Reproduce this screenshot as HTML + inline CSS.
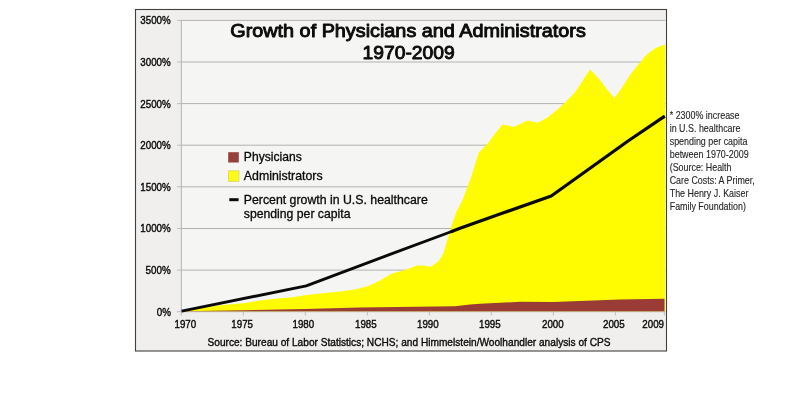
<!DOCTYPE html>
<html><head><meta charset="utf-8">
<style>
html,body{margin:0;padding:0;background:#fff;}
body{width:800px;height:400px;overflow:hidden;font-family:"Liberation Sans",sans-serif;}
svg{display:block;}
text{font-family:"Liberation Sans",sans-serif;}
</style></head>
<body>
<svg width="800" height="400" viewBox="0 0 800 400" style="will-change:transform">
<rect x="0" y="0" width="800" height="400" fill="#ffffff"/>
<!-- outer box -->
<rect x="135.5" y="9.5" width="531" height="341.5" fill="#f0efed" stroke="#404040" stroke-width="1.1"/>
<!-- plot area -->
<rect x="181" y="20" width="484.5" height="291.2" fill="#f5f5f3"/>
<!-- gridlines -->
<g stroke="#b2b2b0" stroke-width="1">
<line x1="181" y1="20.4" x2="665.5" y2="20.4"/>
<line x1="181" y1="62.0" x2="665.5" y2="62.0"/>
<line x1="181" y1="103.6" x2="665.5" y2="103.6"/>
<line x1="181" y1="145.2" x2="665.5" y2="145.2"/>
<line x1="181" y1="186.8" x2="665.5" y2="186.8"/>
<line x1="181" y1="228.5" x2="665.5" y2="228.5"/>
<line x1="181" y1="270.1" x2="665.5" y2="270.1"/>
<line x1="181" y1="311.7" x2="665.5" y2="311.7"/>
<line x1="181.3" y1="20" x2="181.3" y2="315.5"/>
</g>
<g stroke="#bdbdbb" stroke-width="1">
<line x1="177" y1="20.4" x2="181" y2="20.4"/>
<line x1="177" y1="62.0" x2="181" y2="62.0"/>
<line x1="177" y1="103.6" x2="181" y2="103.6"/>
<line x1="177" y1="145.2" x2="181" y2="145.2"/>
<line x1="177" y1="186.8" x2="181" y2="186.8"/>
<line x1="177" y1="228.5" x2="181" y2="228.5"/>
<line x1="177" y1="270.1" x2="181" y2="270.1"/>
<line x1="177" y1="311.7" x2="181" y2="311.7"/>
<line x1="243.3" y1="311.5" x2="243.3" y2="315.5"/>
<line x1="305.3" y1="311.5" x2="305.3" y2="315.5"/>
<line x1="367.3" y1="311.5" x2="367.3" y2="315.5"/>
<line x1="429.3" y1="311.5" x2="429.3" y2="315.5"/>
<line x1="491.3" y1="311.5" x2="491.3" y2="315.5"/>
<line x1="553.3" y1="311.5" x2="553.3" y2="315.5"/>
<line x1="615.3" y1="311.5" x2="615.3" y2="315.5"/>
<line x1="664.3" y1="311.5" x2="664.3" y2="315.5"/>
</g>
<!-- yellow -->
<polygon fill="#fffb00" points="181,311.2 190,309.6 200,308 220,305.2 243,303.2 260,300.6 280,298.2 292.5,297.2 305,295.3 317.5,293.8 330,292.5 342.5,291.3 355,289.4 367.5,286.3 375,283.1 380,280.6 392,273.6 405,270 417,265.5 424,265.6 430.5,267 438.8,261 443.4,253.4 448.1,237.5 451.9,224.4 456.6,211.3 462.5,200 471,177.5 478.8,152.5 481.3,150 487.5,143.8 495,133.8 502.5,124.4 513.8,126.9 527.5,120.6 538.1,122.8 547.5,117.5 557.5,109.6 566.3,101.3 573.8,93.8 580,85 586.3,75 590.3,69.4 600,80 607.5,90 614.4,98.1 621.3,88.8 630,75 634,70 640,62.4 645,56.6 650,52 655,48.5 660,46.3 665.2,44.5 665.2,311.2"/>
<!-- brown -->
<polygon fill="#9a3b35" points="181,311.2 243,310.2 305,309 360,307.4 455,306.2 470,304.6 480,303.8 520,301.8 553,302 620,299.5 664.5,298.8 664.5,311.2"/>
<!-- black line -->
<polyline fill="none" stroke="#0a0a0a" stroke-width="2.9" stroke-linejoin="round" points="181.6,311.1 306.25,285.8 390,254.4 453,231"/>
<polyline fill="none" stroke="#0a0a0a" stroke-width="3.2" stroke-linejoin="round" points="451,231.7 460,228.3 500,214 551.25,196 628.75,140.5 664.8,116.2"/>
<!-- title -->
<text x="230.3" y="37.2" font-size="18.6" fill="#0c0c0c" stroke="#0c0c0c" stroke-width="0.95" stroke-linejoin="round" textLength="355.5" lengthAdjust="spacingAndGlyphs">Growth of Physicians and Administrators</text>
<text x="362.5" y="59.1" font-size="18.6" fill="#0c0c0c" stroke="#0c0c0c" stroke-width="0.95" stroke-linejoin="round" textLength="92.2" lengthAdjust="spacingAndGlyphs">1970-2009</text>
<!-- y labels -->
<g font-size="11.3" fill="#0c0c0c" stroke="#0c0c0c" stroke-width="0.42">
<text x="140.3" y="24.4" textLength="30.4" lengthAdjust="spacingAndGlyphs">3500%</text>
<text x="140.3" y="66.0" textLength="30.4" lengthAdjust="spacingAndGlyphs">3000%</text>
<text x="140.3" y="107.6" textLength="30.4" lengthAdjust="spacingAndGlyphs">2500%</text>
<text x="140.3" y="149.2" textLength="30.4" lengthAdjust="spacingAndGlyphs">2000%</text>
<text x="140.3" y="190.8" textLength="30.4" lengthAdjust="spacingAndGlyphs">1500%</text>
<text x="140.3" y="232.4" textLength="30.4" lengthAdjust="spacingAndGlyphs">1000%</text>
<text x="145.6" y="274.0" textLength="25.1" lengthAdjust="spacingAndGlyphs">500%</text>
<text x="156.8" y="315.6" textLength="14.2" lengthAdjust="spacingAndGlyphs">0%</text>
</g>
<!-- x labels -->
<g font-size="11.3" fill="#0c0c0c" stroke="#0c0c0c" stroke-width="0.42">
<text x="174.5" y="328" textLength="21.7" lengthAdjust="spacingAndGlyphs">1970</text>
<text x="231.3" y="328" textLength="21.7" lengthAdjust="spacingAndGlyphs">1975</text>
<text x="292.5" y="328" textLength="21.7" lengthAdjust="spacingAndGlyphs">1980</text>
<text x="355" y="328" textLength="21.7" lengthAdjust="spacingAndGlyphs">1985</text>
<text x="417" y="328" textLength="21.7" lengthAdjust="spacingAndGlyphs">1990</text>
<text x="479" y="328" textLength="21.7" lengthAdjust="spacingAndGlyphs">1995</text>
<text x="542" y="328" textLength="21.7" lengthAdjust="spacingAndGlyphs">2000</text>
<text x="603" y="328" textLength="21.7" lengthAdjust="spacingAndGlyphs">2005</text>
<text x="642.3" y="328" textLength="21.7" lengthAdjust="spacingAndGlyphs">2009</text>
</g>
<!-- source -->
<text x="207.5" y="345.8" font-size="11.3" fill="#0c0c0c" stroke="#0c0c0c" stroke-width="0.38" textLength="403" lengthAdjust="spacingAndGlyphs">Source: Bureau of Labor Statistics; NCHS; and Himmelstein/Woolhandler analysis of CPS</text>
<!-- legend -->
<rect x="228.2" y="152.2" width="10.6" height="10.3" fill="#94413b"/>
<rect x="228.6" y="170.8" width="10.2" height="10.6" fill="#fffb14" stroke="#e3de62" stroke-width="1.1"/>
<rect x="229.3" y="198.2" width="9.3" height="3" fill="#0c0c0c"/>
<g font-size="12.2" fill="#0a0a0a" stroke="#0a0a0a" stroke-width="0.3">
<text x="243.8" y="160.8" textLength="58" lengthAdjust="spacingAndGlyphs">Physicians</text>
<text x="243.8" y="180" textLength="78.8" lengthAdjust="spacingAndGlyphs">Administrators</text>
<text x="243.8" y="203.8" textLength="184" lengthAdjust="spacingAndGlyphs">Percent growth in U.S. healthcare</text>
<text x="243.8" y="217.5" textLength="106.7" lengthAdjust="spacingAndGlyphs">spending per capita</text>
</g>
<!-- annotation -->
<g font-size="10.5" fill="#262626" stroke="#262626" stroke-width="0.12">
<text x="669.7" y="118.8" textLength="69.8" lengthAdjust="spacingAndGlyphs">* 2300% increase</text>
<text x="669.7" y="131.9" textLength="70.8" lengthAdjust="spacingAndGlyphs">in U.S. healthcare</text>
<text x="669.7" y="145.1" textLength="77.7" lengthAdjust="spacingAndGlyphs">spending per capita</text>
<text x="669.7" y="157.6" textLength="79" lengthAdjust="spacingAndGlyphs">between 1970-2009</text>
<text x="669.7" y="170.7" textLength="61.8" lengthAdjust="spacingAndGlyphs">(Source: Health</text>
<text x="669.7" y="184.1" textLength="85" lengthAdjust="spacingAndGlyphs">Care Costs: A Primer,</text>
<text x="669.7" y="197.3" textLength="78.7" lengthAdjust="spacingAndGlyphs">The Henry J. Kaiser</text>
<text x="669.7" y="210.4" textLength="76.2" lengthAdjust="spacingAndGlyphs">Family Foundation)</text>
</g>
</svg>
</body></html>
